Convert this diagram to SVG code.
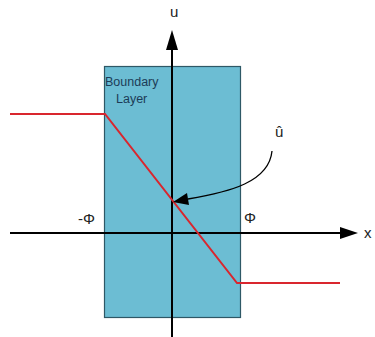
<svg xmlns="http://www.w3.org/2000/svg" width="375" height="337" viewBox="0 0 375 337">
<defs>
<style>
text{font-family:"Liberation Sans",Arial,sans-serif;}
.lbl{font-size:15px;fill:#222;}
.bl{font-size:12.5px;fill:#1c3c57;}
.axis{stroke:#000;stroke-width:2;fill:none;}
</style>
</defs>
<g id="boundary-layer">
<rect x="104.5" y="66.5" width="136" height="251" fill="#6cbdd3" stroke="#2e5866" stroke-width="1.2"/>
<text class="bl" x="105" y="86">Boundary</text>
<text class="bl" x="116" y="103">Layer</text>
</g>
<g id="connectors">
<line class="axis" x1="172" y1="337" x2="172" y2="48"/>
<path d="M166,50 L172,30 L178,50 z" fill="#000"/>
<line class="axis" x1="10" y1="233" x2="342" y2="233"/>
<path d="M340,227 L358,233 L340,239 z" fill="#000"/>
<polyline points="10,114 105,114 237,283 340,283" fill="none" stroke="#d9262e" stroke-width="2"/>
<path d="M272,151 C269,182 230,192 188,199" fill="none" stroke="#000" stroke-width="1.3"/>
<path d="M173,202 L187,193 L189,205 z" fill="#000"/>
</g>
<g id="labels">
<text class="lbl" x="170" y="17" font-size="16">u</text>
<text class="lbl" x="364" y="238">x</text>
<text class="lbl" x="275" y="137">û</text>
<text class="lbl" x="78" y="224">-Φ</text>
<text class="lbl" x="244" y="223">Φ</text>
</g>
</svg>
